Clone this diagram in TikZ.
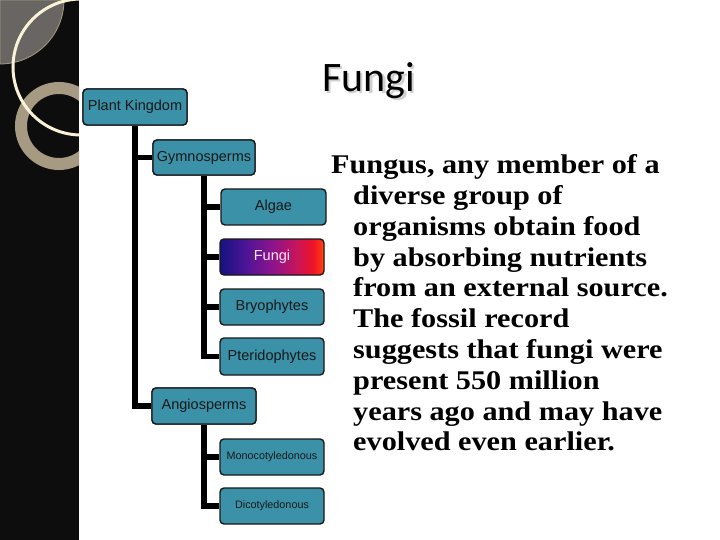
\documentclass[tikz,border=0pt]{standalone}
\usepackage{fontspec}
\setmainfont{Liberation Sans}
\newfontfamily\titlefont{Carlito}
\newfontfamily\bodyfont{Liberation Serif}[FakeStretch=1.12]
\definecolor{stripblack}{RGB}{13,13,13}
\definecolor{quartgray}{RGB}{104,101,98}
\definecolor{tanring}{RGB}{166,155,130}
\definecolor{creamline}{RGB}{250,242,215}
\definecolor{tealbox}{RGB}{58,145,168}
\definecolor{fA}{RGB}{20,20,130}
\definecolor{fB}{RGB}{75,20,150}
\definecolor{fC}{RGB}{140,20,140}
\definecolor{fD}{RGB}{200,20,90}
\definecolor{fE}{RGB}{240,20,40}
\definecolor{fF}{RGB}{255,50,20}
\definecolor{fG}{RGB}{255,110,10}
\pgfdeclarehorizontalshading{fungishade}{100bp}{color(0bp)=(fA); color(25bp)=(fA); color(37bp)=(fB); color(50bp)=(fC); color(62bp)=(fD); color(70bp)=(fE); color(73.5bp)=(fF); color(75bp)=(fG); color(100bp)=(fG)}
\tikzset{
  orgbox/.style={draw=black!90, line width=1.4pt, rounded corners=4pt, fill=tealbox,
    minimum width=104pt, minimum height=36pt, inner sep=0pt, text=black!90,
    font=\fontsize{14.5}{16}\selectfont},
  smallbox/.style={orgbox, font=\fontsize{10.8}{12}\selectfont},
  hotbox/.style={orgbox, shading=fungishade, text=white!92!magenta},
  link/.style={line width=5.5pt, black}
}
\begin{document}
\begin{tikzpicture}[x=1pt,y=-1pt]
\useasboundingbox (0,0) rectangle (720,540);
\fill[white] (0,0) rectangle (720,540);
% left decorative strip
\fill[stripblack] (0,0) rectangle (79,540);
\begin{scope}
  \clip (0,0) rectangle (79,540);
  \filldraw[fill=quartgray, draw=tanring, line width=0.8pt] (0,0) -- (64,0) arc[start angle=0, end angle=90, radius=64] -- cycle;
  \draw[tanring, line width=12pt] (59,126) circle[radius=38];
  \draw[creamline, line width=3pt] (81,67) circle[radius=68];
\end{scope}
% title with soft shadow
\node[anchor=base west, font=\titlefont\fontsize{42}{46}\selectfont, text=black, inner sep=0] (title) at (322,92)
  {\makebox[0pt][l]{\hspace{2.5pt}\raisebox{-2pt}{\color{black!18}Fungi}}Fungi};
% hierarchy
\node[orgbox] (pk) at (135,107) {Plant Kingdom};
\node[orgbox, minimum width=102pt, minimum height=35pt] (gym) at (204,157.5) {Gymnosperms};
\node[orgbox, minimum width=105pt] (alg) at (273.5,207) {Algae};
\node[hotbox] (fun) at (272,257) {Fungi};
\node[orgbox] (bry) at (272,307) {Bryophytes};
\node[orgbox, minimum height=37pt] (pte) at (272,356.5) {Pteridophytes};
\node[orgbox] (ang) at (204,406) {Angiosperms};
\node[smallbox] (mon) at (272,457) {Monocotyledonous};
\node[smallbox] (dic) at (272,506) {Dicotyledonous};
\draw[link] (pk.south) |- (gym.west);
\draw[link] (pk.south) |- (ang.west);
\draw[link] (gym.south) |- (alg.west);
\draw[link] (gym.south) |- (fun.west);
\draw[link] (gym.south) |- (bry.west);
\draw[link] (gym.south) |- (pte.west);
\draw[link] (ang.south) |- (mon.west);
\draw[link] (ang.south) |- (dic.west);
% redraw parent boxes on top of connector ends
\node[orgbox] at (pk) {Plant Kingdom};
\node[orgbox, minimum width=102pt, minimum height=35pt] at (gym) {Gymnosperms};
\node[orgbox] at (ang) {Angiosperms};
% body text
\node[anchor=north west, align=left, inner sep=0, font=\bodyfont\bfseries\fontsize{27}{30.8}\selectfont] (body) at (331,154.5)
{Fungus, any member of a\\
\hspace*{22pt}diverse group of\\
\hspace*{22pt}organisms obtain food\\
\hspace*{22pt}by absorbing nutrients\\
\hspace*{22pt}from an external source.\\
\hspace*{22pt}The fossil record\\
\hspace*{22pt}suggests that fungi were\\
\hspace*{22pt}present 550 million\\
\hspace*{22pt}years ago and may have\\
\hspace*{22pt}evolved even earlier.};
\end{tikzpicture}
\end{document}
